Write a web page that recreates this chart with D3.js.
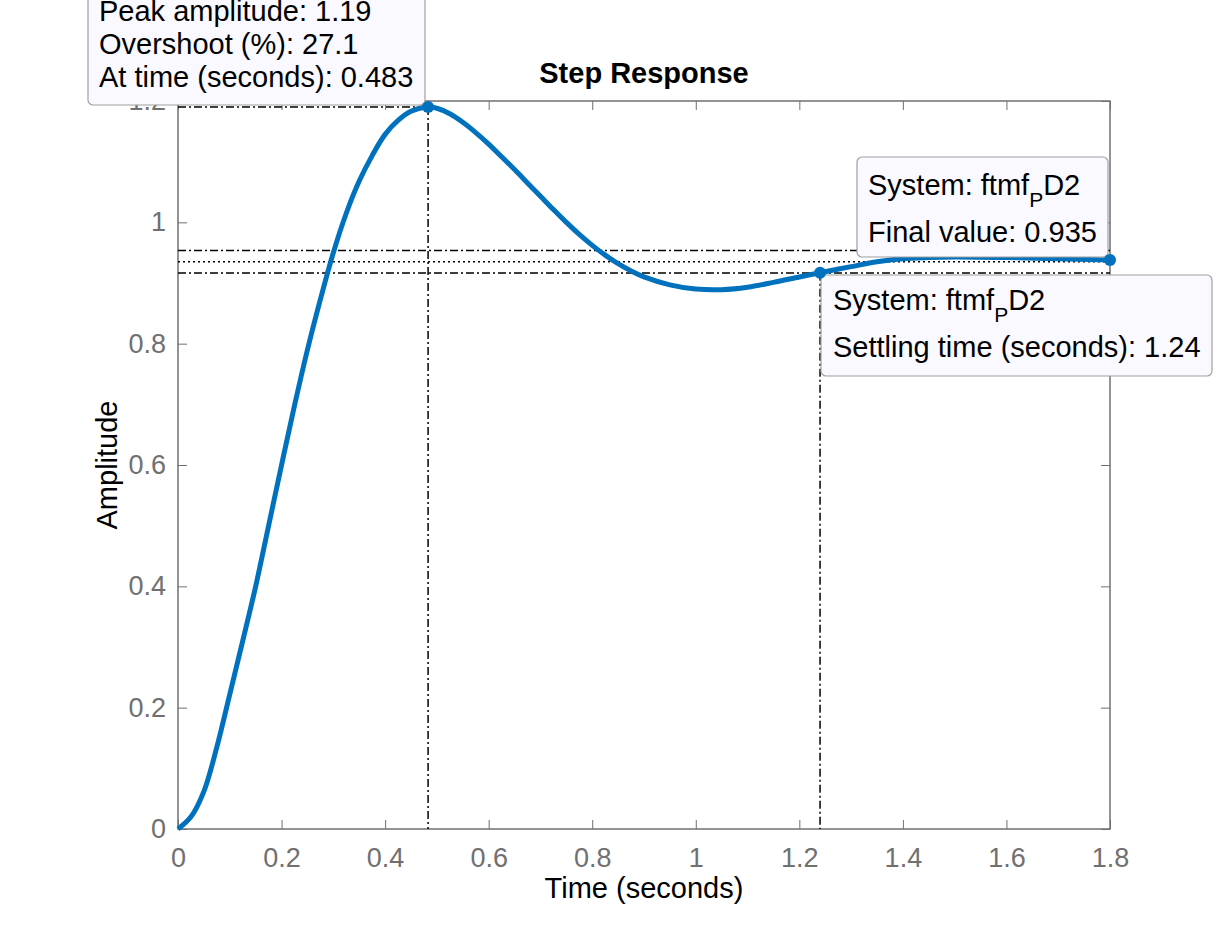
<!DOCTYPE html>
<html>
<head>
<meta charset="utf-8">
<script src="https://cdn.jsdelivr.net/npm/d3@7"></script>
<style>
  body { margin: 0; background: #fff; }
  text { font-family: "Liberation Sans", Arial, Helvetica, sans-serif; }
</style>
</head>
<body>
<script>
// step response
var times = [0, 0.025, 0.05, 0.075, 0.1, 0.125, 0.15, 0.175, 0.2, 0.225, 0.25, 0.275, 0.3, 0.325,
  0.35, 0.375, 0.4, 0.425, 0.45, 0.483, 0.5, 0.525, 0.55, 0.575, 0.6, 0.625, 0.65, 0.675, 0.7,
  0.725, 0.75, 0.775, 0.8, 0.825, 0.85, 0.875, 0.9, 0.95, 1.0, 1.05, 1.1, 1.15, 1.2, 1.24, 1.3,
  1.35, 1.4, 1.45, 1.5, 1.6, 1.7, 1.8];
var amplitude = [0, 0.02, 0.062, 0.135, 0.222, 0.31, 0.40, 0.50, 0.60, 0.698, 0.79, 0.873, 0.95, 1.015,
  1.068, 1.11, 1.145, 1.168, 1.183, 1.19, 1.188, 1.179, 1.165, 1.148, 1.129, 1.108, 1.087, 1.065, 1.043,
  1.021, 1.0, 0.98, 0.962, 0.946, 0.932, 0.92, 0.91, 0.897, 0.89, 0.889, 0.893, 0.901, 0.91, 0.917, 0.927,
  0.935, 0.94, 0.942, 0.943, 0.942, 0.94, 0.938];

var xTicks = [0, 0.2, 0.4, 0.6, 0.8, 1, 1.2, 1.4, 1.6, 1.8];
var yTicks = [0, 0.2, 0.4, 0.6, 0.8, 1, 1.2];

var peakTime = 0.483, peakAmp = 1.19, overshoot = 27.1;
var finalValue = 0.935, finalTime = 1.8, finalAmp = 0.938;
var settleTime = 1.24, settleAmp = 0.917;
var settleBand = [finalValue * 0.98, finalValue * 1.02];

var W = 1228, H = 931;
var margin = {top: 101, right: 118, bottom: 102, left: 178};
var w = W - margin.left - margin.right;
var h = H - margin.top - margin.bottom;
var grey = "#707070";

var svg = d3.select("body").append("svg")
    .attr("width", W)
    .attr("height", H);

var g = svg.append("g")
    .attr("transform", "translate(" + margin.left + "," + margin.top + ")");

var x = d3.scaleLinear().domain([0, 1.8]).range([0, w]);
var y = d3.scaleLinear().domain([0, 1.2]).range([h, 0]);

var fmt = function (d) { return d3.format("")(d); };

// axes, ticks inward on all four sides
function styleAxis(sel, labels) {
    sel.select(".domain").remove();
    sel.selectAll(".tick line").attr("stroke", grey);
    sel.selectAll(".tick text")
        .attr("fill", grey)
        .style("font-size", "27px")
        .style("font-family", "'Liberation Sans', Arial, sans-serif");
    if (!labels) sel.selectAll(".tick text").remove();
}

g.append("g")
    .attr("transform", "translate(0," + h + ")")
    .call(d3.axisBottom(x).tickValues(xTicks).tickFormat(fmt).tickSizeInner(-9).tickSizeOuter(0).tickPadding(19))
    .call(styleAxis, true);
g.append("g")
    .call(d3.axisTop(x).tickValues(xTicks).tickSizeInner(-9).tickSizeOuter(0))
    .call(styleAxis, false);
g.append("g")
    .call(d3.axisLeft(y).tickValues(yTicks).tickFormat(fmt).tickSizeInner(-9).tickSizeOuter(0).tickPadding(12))
    .call(styleAxis, true);
g.append("g")
    .attr("transform", "translate(" + w + ",0)")
    .call(d3.axisRight(y).tickValues(yTicks).tickSizeInner(-9).tickSizeOuter(0))
    .call(styleAxis, false);

g.append("rect")
    .attr("width", w)
    .attr("height", h)
    .attr("fill", "none")
    .attr("stroke", grey)
    .attr("stroke-width", 1.5);

// characteristic lines
var dashDot = "8,3,2,3";
function ref(x1, y1, x2, y2, dash) {
    g.append("line")
        .attr("x1", x(x1)).attr("y1", y(y1))
        .attr("x2", x(x2)).attr("y2", y(y2))
        .attr("stroke", "#000")
        .attr("stroke-width", 1.5)
        .attr("stroke-dasharray", dash);
}
ref(0, settleBand[1], 1.8, settleBand[1], dashDot);
ref(0, finalValue, 1.8, finalValue, "2,3");
ref(0, settleBand[0], 1.8, settleBand[0], dashDot);
ref(0, peakAmp, peakTime, peakAmp, dashDot);
ref(peakTime, peakAmp, peakTime, 0, dashDot);
ref(settleTime, settleAmp, settleTime, 0, dashDot);

var data = times.map(function (t, i) { return {t: t, a: amplitude[i]}; });

g.append("path")
    .datum(data)
    .attr("fill", "none")
    .attr("stroke", "#0072BD")
    .attr("stroke-width", 5)
    .attr("d", d3.line()
        .x(function (d) { return x(d.t); })
        .y(function (d) { return y(d.a); })
        .curve(d3.curveCatmullRom.alpha(0.5)));

// axis labels and title
svg.append("text")
    .attr("x", margin.left + w / 2)
    .attr("y", 83)
    .attr("text-anchor", "middle")
    .style("font-size", "29px")
    .style("font-weight", "bold")
    .text("Step Response");

svg.append("text")
    .attr("x", margin.left + w / 2)
    .attr("y", 898)
    .attr("text-anchor", "middle")
    .style("font-size", "29px")
    .text("Time (seconds)");

svg.append("text")
    .attr("transform", "translate(117," + (margin.top + h / 2) + ") rotate(-90)")
    .attr("text-anchor", "middle")
    .style("font-size", "29px")
    .text("Amplitude");

// data tips
function tip(x0, y0, x1, y1, tx, lines) {
    svg.append("rect")
        .attr("x", x0).attr("y", y0)
        .attr("width", x1 - x0).attr("height", y1 - y0)
        .attr("rx", 5)
        .attr("fill", "#f9f9ff")
        .attr("stroke", "#a0a0a0")
        .attr("stroke-width", 1.2);
    lines.forEach(function (l) {
        var t = svg.append("text")
            .attr("x", tx)
            .attr("y", l.y)
            .style("font-size", "29px");
        l.parts.forEach(function (p) {
            var s = t.append("tspan").text(p.s);
            if (p.sub) s.style("font-size", "21px").attr("dy", 12);
            if (p.after) s.attr("dy", -12);
        });
    });
}

tip(88, -12, 425, 105, 99, [
    {y: 21, parts: [{s: "Peak amplitude: " + peakAmp}]},
    {y: 54, parts: [{s: "Overshoot (%): " + overshoot}]},
    {y: 87, parts: [{s: "At time (seconds): " + peakTime}]}
]);

tip(857, 157, 1108, 257, 868, [
    {y: 195, parts: [{s: "System: ftmf"}, {s: "P", sub: true}, {s: "D2", after: true}]},
    {y: 242, parts: [{s: "Final value: " + finalValue}]}
]);

tip(821, 275, 1212, 376, 833, [
    {y: 310, parts: [{s: "System: ftmf"}, {s: "P", sub: true}, {s: "D2", after: true}]},
    {y: 357, parts: [{s: "Settling time (seconds): " + settleTime}]}
]);

// markers
var marks = [[peakTime, peakAmp], [settleTime, settleAmp], [finalTime, finalAmp]];
svg.append("g")
    .attr("transform", "translate(" + margin.left + "," + margin.top + ")")
    .selectAll("circle")
    .data(marks)
    .enter()
    .append("circle")
    .attr("cx", function (d) { return x(d[0]); })
    .attr("cy", function (d) { return y(d[1]); })
    .attr("r", 6)
    .attr("fill", "#0072BD");
</script>
</body>
</html>
